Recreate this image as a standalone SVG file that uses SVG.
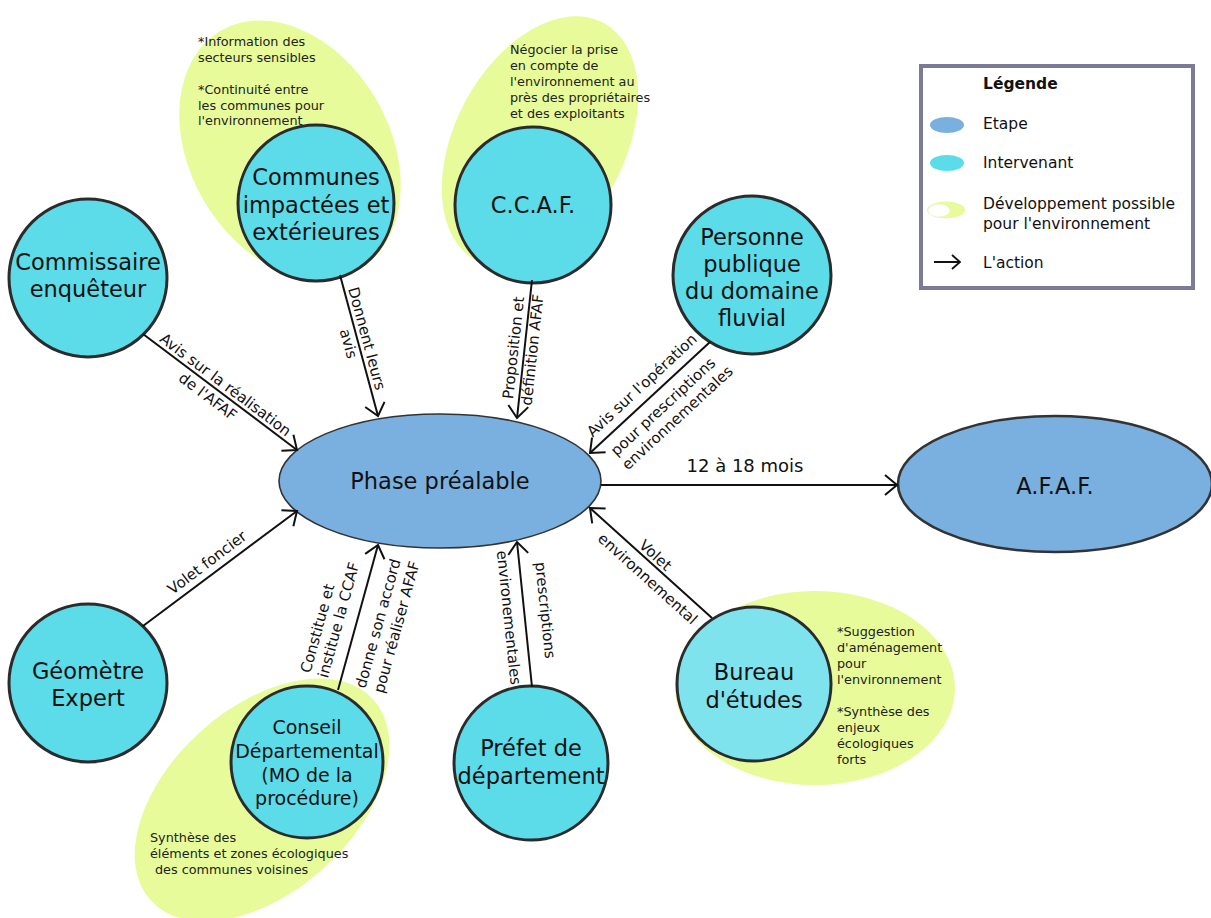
<svg xmlns="http://www.w3.org/2000/svg" width="1211" height="918" viewBox="0 0 1211 918">
<style>
text{font-family:"DejaVu Sans","Verdana",sans-serif;fill:#111}
.node{font-size:22.5px;text-anchor:middle}
.cd{font-size:19px;text-anchor:middle}
.note{font-size:12.8px;fill:#222}
.lbl{font-size:15px;text-anchor:middle}
.lbls{font-size:15px;text-anchor:start}
.leg{font-size:15.5px}
.step{fill:#7ab0e0;stroke:#333;stroke-width:1.6}
.actor{fill:#5cdbe8;stroke:#2b2b2b;stroke-width:3}
.dev{fill:#e7fb9a}
.con{stroke:#111;stroke-width:2;fill:none;marker-end:url(#arr)}
</style>
<defs>
<marker id="arr" markerUnits="userSpaceOnUse" viewBox="-15 -15 30 30" markerWidth="30" markerHeight="30" refX="0" refY="0" orient="auto" overflow="visible">
<path d="M-12,-10 L0,0 L-12,10" fill="none" stroke="#111" stroke-width="2"/>
</marker>
</defs>
<rect width="1211" height="918" fill="#fff"/>

<g id="communes">
<ellipse class="dev" cx="290" cy="150" rx="138" ry="100" transform="rotate(60 290 150)"/>
<text class="note"><tspan x="198" y="46">*Information des</tspan><tspan x="198" y="62">secteurs sensibles</tspan><tspan x="198" y="94">*Continuité entre</tspan><tspan x="198" y="110">les communes pour</tspan><tspan x="198" y="125">l'environnement</tspan></text>
<circle class="actor" cx="316" cy="203" r="78"/>
<text class="node"><tspan x="316" y="185">Communes</tspan><tspan x="316" y="213">impactées et</tspan><tspan x="316" y="240">extérieures</tspan></text>
</g>

<g id="ccaf">
<ellipse class="dev" cx="540" cy="142" rx="135" ry="85" transform="rotate(-62 540 142)"/>
<text class="note"><tspan x="510" y="54">Négocier la prise</tspan><tspan x="510" y="70">en compte de</tspan><tspan x="510" y="86">l'environnement au</tspan><tspan x="510" y="102">près des propriétaires</tspan><tspan x="510" y="118">et des exploitants</tspan></text>
<circle class="actor" cx="533" cy="205" r="78"/>
<text class="node" x="533" y="213">C.C.A.F.</text>
</g>

<g id="commissaire">
<circle class="actor" cx="88" cy="278" r="79"/>
<text class="node"><tspan x="88" y="270">Commissaire</tspan><tspan x="88" y="297">enquêteur</tspan></text>
</g>

<g id="personne">
<circle class="actor" cx="752" cy="275" r="79"/>
<text class="node"><tspan x="752" y="245">Personne</tspan><tspan x="752" y="272">publique</tspan><tspan x="752" y="299">du domaine</tspan><tspan x="752" y="326">fluvial</tspan></text>
</g>

<g id="geometre">
<circle class="actor" cx="88" cy="683" r="79"/>
<text class="node"><tspan x="88" y="679">Géomètre</tspan><tspan x="88" y="706">Expert</tspan></text>
</g>

<g id="conseil">
<ellipse class="dev" cx="262" cy="800" rx="150" ry="92" transform="rotate(-42 262 800)"/>
<text class="note"><tspan x="150" y="842">Synthèse des</tspan><tspan x="150" y="858">éléments et zones écologiques</tspan><tspan x="155" y="874">des communes voisines</tspan></text>
<circle class="actor" cx="307" cy="762" r="76"/>
<text class="cd"><tspan x="307" y="734">Conseil</tspan><tspan x="307" y="758">Départemental</tspan><tspan x="307" y="782">(MO de la</tspan><tspan x="307" y="805">procédure)</tspan></text>
</g>

<g id="prefet">
<circle class="actor" cx="531" cy="763" r="77"/>
<text class="node"><tspan x="531" y="756">Préfet de</tspan><tspan x="531" y="784">département</tspan></text>
</g>

<g id="bureau">
<ellipse class="dev" cx="815" cy="688" rx="140" ry="97"/>
<text class="note"><tspan x="837" y="636">*Suggestion</tspan><tspan x="837" y="652">d'aménagement</tspan><tspan x="837" y="668">pour</tspan><tspan x="837" y="684">l'environnement</tspan><tspan x="837" y="716">*Synthèse des</tspan><tspan x="837" y="732">enjeux</tspan><tspan x="837" y="748">écologiques</tspan><tspan x="837" y="764">forts</tspan></text>
<circle class="actor" cx="754" cy="684" r="77" style="fill:#7fe3ee"/>
<text class="node"><tspan x="754" y="680">Bureau</tspan><tspan x="754" y="708">d'études</tspan></text>
</g>

<g id="phase">
<ellipse class="step" cx="440" cy="481" rx="161" ry="67"/>
<text class="node" x="440" y="489">Phase préalable</text>
</g>

<g id="afaf">
<ellipse class="step" cx="1055" cy="484" rx="157" ry="68" style="stroke-width:2.6"/>
<text class="node" x="1055" y="494">A.F.A.F.</text>
</g>

<g id="connectors">
<path class="con" d="M143,334 L297,450"/>
<path class="con" d="M340,275 L378,416"/>
<path class="con" d="M532,280 L517,418"/>
<path class="con" d="M710,342 L590,453"/>
<path class="con" d="M601,485 L897,485"/>
<path class="con" d="M712,618 L590,508"/>
<path class="con" d="M532,687 L517,542"/>
<path class="con" d="M338,690 L378,545"/>
<path class="con" d="M143,626 L297,511"/>
<text class="lbl" transform="translate(220 392) rotate(37)"><tspan x="0" y="-4">Avis sur la réalisation</tspan><tspan x="-7" y="16">de l'AFAF</tspan></text>
<text class="lbl" transform="translate(358 341) rotate(74.8)"><tspan x="0" y="-4">Donnent leurs</tspan><tspan x="0" y="15">avis</tspan></text>
<text class="lbl" transform="translate(524.5 349) rotate(-83.8)"><tspan x="0" y="-6">Proposition et</tspan><tspan x="0" y="13">définition AFAF</tspan></text>
<text class="lbl" transform="translate(650 397) rotate(-42.8)"><tspan x="2" y="-9">Avis sur l'opération</tspan><tspan x="3" y="21">pour prescriptions</tspan><tspan x="6" y="39">environnementales</tspan></text>
<text class="lbl" x="745" y="472" style="font-size:18px">12 à 18 mois</text>
<text class="lbl" transform="translate(651 563) rotate(42)"><tspan x="-2" y="-3.5">Volet</tspan><tspan x="8" y="19">environnemental</tspan></text>
<text class="lbl" transform="translate(524.5 614.5) rotate(84.1)"><tspan x="-2" y="-16">prescriptions</tspan><tspan x="1.5" y="21">environementales</tspan></text>
<text class="lbls" transform="translate(358 617.5) rotate(-74.6)"><tspan x="-67" y="-31">Constitue et</tspan><tspan x="-67" y="-13">institue la CCAF</tspan><tspan x="-67" y="26">donne son accord</tspan><tspan x="-67" y="45">pour réaliser AFAF</tspan></text>
<text class="lbl" transform="translate(220 568) rotate(-37)"><tspan x="-7" y="-7">Volet foncier</tspan></text>
</g>

<g id="legend">
<rect x="921" y="66" width="272" height="222" fill="#fff" stroke="#7b7b96" stroke-width="4"/>
<text class="leg" x="983" y="89" style="font-weight:bold">Légende</text>
<ellipse cx="947" cy="125" rx="17" ry="8" fill="#7ab0e0"/>
<text class="leg" x="983" y="129">Etape</text>
<ellipse cx="947" cy="163" rx="17" ry="8" fill="#5cdbe8"/>
<text class="leg" x="983" y="168">Intervenant</text>
<ellipse cx="946" cy="210" rx="19" ry="8.5" fill="#e7fb9a"/>
<ellipse cx="939" cy="210.5" rx="11" ry="6.5" fill="#fff" stroke="#eef5d0" stroke-width="1"/>
<text class="leg"><tspan x="983" y="209">Développement possible</tspan><tspan x="983" y="229">pour l'environnement</tspan></text>
<path d="M934,262 L960,262 M952,255 L960,262 L952,269" fill="none" stroke="#111" stroke-width="1.8"/>
<text class="leg" x="983" y="268">L'action</text>
</g>
</svg>
